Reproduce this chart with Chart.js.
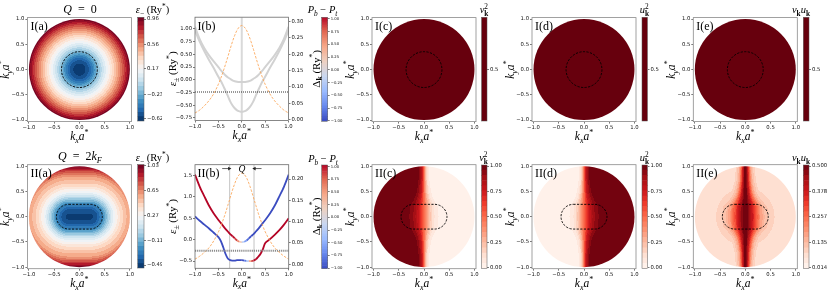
<!DOCTYPE html>
<html><head><meta charset="utf-8">
<script src="https://cdn.jsdelivr.net/npm/chart.js@4.4.1/dist/chart.umd.min.js"></script>
<style>
html,body{margin:0;padding:0;background:#fff;}
#wrap{position:relative;width:830px;height:293px;overflow:hidden;background:#fff;}
#wrap canvas{position:absolute;left:0;top:0;}
</style></head><body><div id="wrap"></div>
<script>
// ================= DATA =================
const kGrid = [-1,-0.9,-0.8,-0.7,-0.6,-0.5,-0.45,-0.4,-0.35,-0.3,-0.25,-0.2,-0.15,-0.1,-0.05,0,0.05,0.1,0.15,0.2,0.25,0.3,0.35,0.4,0.45,0.5,0.6,0.7,0.8,0.9,1];
// I(b)  Q = 0
const epsLowerIb = [0.97,0.75,0.56,0.39,0.23,0.06,-0.02,-0.11,-0.21,-0.31,-0.42,-0.50,-0.56,-0.60,-0.62,-0.63,-0.62,-0.60,-0.56,-0.50,-0.42,-0.31,-0.21,-0.11,-0.02,0.06,0.23,0.39,0.56,0.75,0.97];
const epsUpperIb = [1.04,0.80,0.62,0.48,0.36,0.25,0.19,0.14,0.09,0.05,0.02,-0.01,-0.03,-0.04,-0.045,-0.045,-0.045,-0.04,-0.03,-0.01,0.02,0.05,0.09,0.14,0.19,0.25,0.36,0.48,0.62,0.80,1.04];
const deltaIb = [0.020,0.029,0.042,0.058,0.079,0.108,0.126,0.146,0.168,0.191,0.215,0.238,0.258,0.274,0.284,0.288,0.284,0.274,0.258,0.238,0.215,0.191,0.168,0.146,0.126,0.108,0.079,0.058,0.042,0.029,0.020];
// II(b)  Q = 2kF
const epsUpperIIb = [1.52,1.24,1.01,0.79,0.61,0.46,0.39,0.32,0.25,0.19,0.13,0.08,0.03,-0.02,-0.05,-0.06,-0.05,-0.02,0.03,0.08,0.13,0.19,0.25,0.32,0.39,0.46,0.61,0.79,1.01,1.24,1.52];
const epsLowerIIb = [0.54,0.44,0.35,0.26,0.16,0.06,-0.03,-0.17,-0.33,-0.44,-0.48,-0.49,-0.49,-0.48,-0.48,-0.48,-0.49,-0.50,-0.50,-0.50,-0.49,-0.46,-0.40,-0.33,-0.22,-0.08,0.01,0.11,0.22,0.35,0.50];
const polUpperIIb = [1,1,1,1,1,1,1,1,1,1,1,1,0.92,0.75,0.42,0,-0.42,-0.75,-0.92,-1,-1,-1,-1,-1,-1,-1,-1,-1,-1,-1,-1];
const polLowerIIb = [-1,-1,-1,-1,-1,-1,-1,-1,-1,-1,-1,-1,-1,-1,-1,-1,-0.95,-0.6,0.1,0.7,0.95,1,1,1,1,1,1,1,1,1,1];
const deltaIIb = [0.012,0.019,0.028,0.039,0.055,0.076,0.089,0.104,0.120,0.138,0.156,0.174,0.190,0.203,0.211,0.214,0.211,0.203,0.190,0.174,0.156,0.138,0.120,0.104,0.089,0.076,0.055,0.039,0.028,0.019,0.012];
const muIb = -0.24, muIIb = -0.26;
const refLinesIb = [0];
const refLinesIIb = [-0.26, 0.26];
const arrowsIIb = [[-0.42,-0.27],[0.42,0.27]];
const arrowYIIb = 1.66;
// maps
const fermiRadiusQ0 = 0.355;
const stadiumHalfLength = 0.21, fermiStadiumRadius = 0.245;
const distGrid = [0,0.05,0.1,0.15,0.2,0.25,0.3,0.4,0.5,0.6,0.7,0.8,0.9,1.0];
const epsLowerQ2Map = [-0.49,-0.475,-0.45,-0.40,-0.32,-0.25,-0.14,0.08,0.26,0.40,0.50,0.60,0.79,1.03];
const v2KxGrid = [-0.6,-0.4,-0.3,-0.2,-0.1,0,0.1,0.2,0.3,0.4,0.6];
const v2AtKy0 = [0.995,0.985,0.965,0.90,0.76,0.50,0.24,0.10,0.035,0.015,0.005];
const lensKyGrid = [0,0.2,0.3,0.4,0.5,0.7,1.0];
const lensWidth = [1,0.95,0.75,0.58,0.48,0.38,0.33];
const haloR = [0,0.3,0.45,0.6,0.75,0.9,1.0];
const haloUV = [0.2,0.16,0.11,0.08,0.055,0.03,0.015];
const uniformVU = 0.5;
// ticks
const mapTicks = [-1,-0.5,0,0.5,1];
const ibLeftTicks = [-0.75,-0.5,-0.25,0,0.25,0.5,0.75,1];
const ibRightTicks = [0,0.05,0.1,0.15,0.2,0.25,0.3];
const iibLeftTicks = [-0.5,0,0.5,1,1.5];
const iibRightTicks = [0,0.05,0.1,0.15,0.2];
const cbTicksIa = [-0.62,-0.23,0.17,0.56,0.96];
const cbTicksIIa = [-0.49,-0.11,0.27,0.65,1.03];
const cbTicksPol = [-1,-0.75,-0.5,-0.25,0,0.25,0.5,0.75,1];
const cbTicksVU = [0,0.25,0.5,0.75,1];
const cbTicksUV = [0.014,0.135,0.257,0.378,0.5];
const cbTicksUniform = [0.5];

// ================= LAYOUT / STYLE =================
const W = 830, H = 293;
const SERIF = '"Liberation Serif","Times New Roman",serif';
const SANS = '"DejaVu Sans",sans-serif';
const MAPLIM = 1.03, MAPHALF = 52;
const YW = 24, XH = 12, RW = 20, CBW = 18, TFS = 5.3;
const bXLim = [-1, 1];
const ibYLim = [-0.80, 1.23], ibY2Lim = [-0.003, 0.3135];
const iibYLim = [-0.67, 1.75], iibY2Lim = [-0.0094, 0.2337];
const cbRangeIa = [-0.652, 0.987], cbRangeIIa = [-0.536, 1.053];
const cbRangePol = [-1.01, 1.03], cbRangeVU = [-0.008, 1.01], cbRangeUV = [0.010, 0.505];

function hex2rgb(h){ return [parseInt(h.slice(1,3),16),parseInt(h.slice(3,5),16),parseInt(h.slice(5,7),16)]; }
function makeCmap(hexes){ const c = hexes.map(hex2rgb); return t => { t=Math.min(1,Math.max(0,t)); const f=t*(c.length-1); const i=Math.min(c.length-2,Math.floor(f)); const u=f-i; return [0,1,2].map(k=>Math.round(c[i][k]+u*(c[i+1][k]-c[i][k]))); }; }
const rgbStr = c => `rgb(${c[0]},${c[1]},${c[2]})`;
const RdBu_r = makeCmap(['#053061','#2166ac','#4393c3','#92c5de','#d1e5f0','#f7f7f7','#fddbc7','#f4a582','#d6604d','#b2182b','#67001f']);
const Reds = makeCmap(['#fff5f0','#fee0d2','#fcbba1','#fc9272','#fb6a4a','#ef3b2c','#cb181d','#a50f15','#67000d']);
const coolwarm = makeCmap(['#3b4cc0','#6788ee','#9abbff','#c9d7f0','#edd1c2','#f7a889','#e26952','#b40426']);
const polColor = p => rgbStr(coolwarm((p+1)/2));

function interp(xs, ys, x){ const n=xs.length; if(x<=xs[0]) return ys[0]; if(x>=xs[n-1]) return ys[n-1]; let i=1; while(xs[i]<x) i++; const t=(x-xs[i-1])/(xs[i]-xs[i-1]); return ys[i-1]+t*(ys[i]-ys[i-1]); }

const wrap = document.getElementById('wrap');
function newCtx(){ const c=document.createElement('canvas'); c.width=W; c.height=H; c.style.width=W+'px'; c.style.height=H+'px'; wrap.appendChild(c); return c.getContext('2d'); }
function opts(extra){ return Object.assign({responsive:false,maintainAspectRatio:false,animation:false,devicePixelRatio:1,events:[],plugins:{legend:{display:false},tooltip:{enabled:false}}}, extra); }
function pad(a, lw, bh, rw){ return {left:a[0]-lw, top:a[1], right:W-a[2]-rw, bottom:H-a[3]-bh}; }
function fmt(d){ return v => (v < -1e-9 ? '\u2212' : '') + Math.abs(v).toFixed(d); }
function axis(pos, min, max, ticks, dec, size, fs){
  const horiz = pos==='top'||pos==='bottom';
  return { type:'linear', position:pos, min, max,
    afterBuildTicks: s => { s.ticks = ticks.map(v=>({value:v})); },
    afterFit: s => { if(horiz) s.height=size; else s.width=size; },
    ticks:{ callback: fmt(dec), font:{family:SANS,size:fs}, color:'#111', padding:1, autoSkip:false, maxRotation:0, minRotation:0 },
    grid:{ display:true, drawOnChartArea:false, drawTicks:true, tickLength:2, color:'#222', lineWidth:0.6 },
    border:{ display:false } };
}

function drawRich(ctx, runs, x, y, o){
  const fs=o.fs||10, fam=o.family||SERIF; let cx=0, prevStart=0; const pcs=[];
  for(const [t,f=''] of runs){
    const fl=f.split(' '); const small=fl.includes('sub')||fl.includes('sup');
    const size=small?fs*0.7:fs;
    const font=(fl.includes('it')?'italic ':'')+(fl.includes('bf')?'bold ':'')+size.toFixed(2)+'px '+fam;
    ctx.font=font; const w=ctx.measureText(t).width;
    const start=fl.includes('stk')?prevStart:cx;
    const dy=fl.includes('sub')?fs*0.25:(fl.includes('sup')?-fs*0.42:0);
    pcs.push({t,font,x:start,dy}); cx=Math.max(cx,start+w); prevStart=start;
  }
  ctx.save(); ctx.translate(x,y); if(o.rot) ctx.rotate(o.rot);
  const x0=o.align==='left'?0:(o.align==='right'?-cx:-cx/2);
  ctx.fillStyle=o.color||'#000'; ctx.textBaseline='alphabetic'; ctx.textAlign='left';
  for(const p of pcs){ ctx.font=p.font; ctx.fillText(p.t, x0+p.x, fs*0.33+p.dy); }
  ctx.restore();
}
function textPlugin(items){ return { id:'txt', afterDraw(chart){ for(const it of items){ const p=typeof it.at==='function'?it.at(chart):it.at; drawRich(chart.ctx,it.runs,p[0],p[1],it); } } }; }
function framePlugin(color,lw){ return { id:'frame', afterDatasetsDraw(chart){ const a=chart.chartArea, c=chart.ctx; c.save(); c.strokeStyle=color; c.lineWidth=lw; c.setLineDash([]); c.strokeRect(a.left,a.top,a.right-a.left,a.bottom-a.top); c.restore(); } }; }

function fieldPlugin(spec){
  return { id:'field', beforeDatasetsDraw(chart){
    const {ctx, chartArea:a, scales:{x,y}} = chart;
    const x0=Math.floor(a.left), y0=Math.floor(a.top), w=Math.ceil(a.right)-x0, h=Math.ceil(a.bottom)-y0;
    const off=document.createElement('canvas'); off.width=w; off.height=h;
    const octx=off.getContext('2d'); const img=octx.createImageData(w,h); const d=img.data; const cache={};
    for(let j=0;j<h;j++){ const ky=y.getValueForPixel(y0+j+0.5);
      for(let i=0;i<w;i++){ const kx=x.getValueForPixel(x0+i+0.5); let col;
        if(spec.fixed) col=spec.fixed;
        else { const v=spec.value(kx,ky); let L=Math.floor((v-spec.range[0])/(spec.range[1]-spec.range[0])*spec.n); L=Math.max(0,Math.min(spec.n-1,L)); col=cache[L]||(cache[L]=spec.cmap((L+0.5)/spec.n)); }
        const p=(j*w+i)*4; d[p]=col[0]; d[p+1]=col[1]; d[p+2]=col[2]; d[p+3]=255; } }
    octx.putImageData(img,0,0);
    const cx=x.getPixelForValue(0), cy=y.getPixelForValue(0), R=x.getPixelForValue(1)-cx;
    ctx.save(); ctx.beginPath(); ctx.arc(cx,cy,R,0,2*Math.PI); ctx.clip(); ctx.drawImage(off,x0,y0); ctx.restore();
    const ct=spec.contour; const r=x.getPixelForValue(ct.r)-cx;
    ctx.save(); ctx.setLineDash([2.2,1.4]); ctx.lineWidth=0.9; ctx.strokeStyle='#000'; ctx.beginPath();
    if(ct.type==='circle'){ ctx.arc(cx,cy,r,0,2*Math.PI); }
    else { const xl=x.getPixelForValue(-ct.c), xr=x.getPixelForValue(ct.c);
      ctx.moveTo(xl,cy-r); ctx.lineTo(xr,cy-r); ctx.arc(xr,cy,r,-Math.PI/2,Math.PI/2); ctx.lineTo(xl,cy+r); ctx.arc(xl,cy,r,Math.PI/2,1.5*Math.PI); ctx.closePath(); }
    ctx.stroke(); ctx.restore();
  }};
}

const AFS = 11.5, PFS = 12;
const xlab=[['k','it'],['x','it sub'],['a','it'],['*','sup']];
const ylab=[['k','it'],['y','it sub'],['a','it'],['*','sup']];
const CA = c => c.chartArea;
function mapTexts(label){ return [
  {runs:xlab, at:c=>[(CA(c).left+CA(c).right)/2, CA(c).bottom+14.5], fs:AFS},
  {runs:ylab, at:c=>[CA(c).left-22, (CA(c).top+CA(c).bottom)/2], fs:AFS, rot:-Math.PI/2},
  {runs:[[label,'']], at:c=>[CA(c).left+3, CA(c).top+8.5], fs:PFS, align:'left'}
]; }

function mapChart(center, spec, label, extra){
  const a=[center[0]-MAPHALF, center[1]-MAPHALF, center[0]+MAPHALF, center[1]+MAPHALF];
  return new Chart(newCtx(), { type:'scatter', data:{datasets:[]},
    options: opts({ layout:{padding:pad(a,YW,XH,0)}, scales:{ x:axis('bottom',-MAPLIM,MAPLIM,mapTicks,1,XH,TFS), y:axis('left',-MAPLIM,MAPLIM,mapTicks,1,YW,TFS) } }),
    plugins:[fieldPlugin(spec), framePlugin('#8a8a8a',0.8), textPlugin(mapTexts(label).concat(extra||[]))] });
}

function levelBands(range, n, cmap){ const out=[]; const dv=(range[1]-range[0])/n; for(let i=0;i<n;i++) out.push({lo:range[0]+i*dv, hi:range[0]+(i+1)*dv, color:rgbStr(cmap((i+0.5)/n))}); return out; }
function colorbarChart(a, range, ticks, dec, bands, fs, texts){
  return new Chart(newCtx(), { type:'bar',
    data:{ labels:[''], datasets: bands.map(b=>({data:[[b.lo,b.hi]], backgroundColor:b.color, borderWidth:0, barPercentage:1, categoryPercentage:1, grouped:false})) },
    options: opts({ layout:{padding:{left:a[0], top:a[1], right:W-a[2]-CBW, bottom:H-a[3]}},
      scales:{ x:{display:false}, y:axis('right',range[0],range[1],ticks,dec,CBW,fs) } }),
    plugins:[framePlugin('#555',0.5), textPlugin(texts)] });
}

// ---------- field definitions built from the arrays ----------
const kPos = kGrid.slice(15), epsPosIb = epsLowerIb.slice(15);
const fieldIa = (kx,ky) => interp(kPos, epsPosIb, Math.hypot(kx,ky));
const fieldIIa = (kx,ky) => interp(distGrid, epsLowerQ2Map, Math.hypot(Math.max(Math.abs(kx)-stadiumHalfLength,0), ky));
const v2 = (kx,ky) => interp(v2KxGrid, v2AtKy0, kx / interp(lensKyGrid, lensWidth, Math.abs(ky)));
const uvField = (kx,ky) => { const s=v2(kx,ky); return Math.max(Math.sqrt(s*(1-s)), interp(haloR, haloUV, Math.hypot(kx,ky))); };
const topRed = Reds(1);
const circleQ0 = {type:'circle', r:fermiRadiusQ0};
const stadiumQ2 = {type:'stadium', c:stadiumHalfLength, r:fermiStadiumRadius};

// ---------- maps ----------
const rowY = [69.6, 216.7];
const colX = {a:79.4, c:424, d:584, e:745.3};
mapChart([colX.a,rowY[0]], {value:fieldIa, range:cbRangeIa, n:24, cmap:RdBu_r, contour:circleQ0}, 'I(a)',
  [{runs:[['Q','it'],['  =  0','']], at:[80,9.5], fs:12}]);
mapChart([colX.a,rowY[1]], {value:fieldIIa, range:cbRangeIIa, n:24, cmap:RdBu_r, contour:stadiumQ2}, 'II(a)',
  [{runs:[['Q','it'],['  =  2',''],['k','it'],['F','it sub']], at:[80,156.5], fs:12}]);
mapChart([colX.c,rowY[0]], {fixed:topRed, contour:circleQ0}, 'I(c)');
mapChart([colX.d,rowY[0]], {fixed:topRed, contour:circleQ0}, 'I(d)');
mapChart([colX.e,rowY[0]], {fixed:topRed, contour:circleQ0}, 'I(e)');
mapChart([colX.c,rowY[1]], {value:v2, range:cbRangeVU, n:20, cmap:Reds, contour:stadiumQ2}, 'II(c)');
mapChart([colX.d,rowY[1]], {value:(kx,ky)=>1-v2(kx,ky), range:cbRangeVU, n:20, cmap:Reds, contour:stadiumQ2}, 'II(d)');
mapChart([colX.e,rowY[1]], {value:uvField, range:cbRangeUV, n:20, cmap:Reds, contour:stadiumQ2}, 'II(e)');

// ---------- band panels ----------
const pts = arr => kGrid.map((k,i)=>({x:k, y:arr[i]}));
function bandTexts(label){ return [
  {runs:xlab, at:c=>[(CA(c).left+CA(c).right)/2, CA(c).bottom+14.5], fs:AFS},
  {runs:[['ε','it'],['±','sub'],[' (Ry',''],['*','sup'],[')','']], at:c=>[CA(c).left-22.5,(CA(c).top+CA(c).bottom)/2], fs:11, rot:-Math.PI/2},
  {runs:[['Δ',''],['k','bf sub'],[' (Ry',''],['*','sup'],[')','']], at:c=>[CA(c).right+27.5,(CA(c).top+CA(c).bottom)/2], fs:11, rot:-Math.PI/2},
  {runs:[[label,'']], at:c=>[CA(c).left+2.5, CA(c).top+8.5], fs:PFS, align:'left'}
]; }
const lineBase = {pointRadius:0, fill:false, borderCapStyle:'butt'};
const ORANGE = 'rgba(252,163,82,0.95)';

// I(b)
new Chart(newCtx(), { type:'line', data:{ datasets:[
  ...refLinesIb.map(x0=>({...lineBase, data:ibYLim.map(y=>({x:x0,y})), borderColor:'#d9d9d9', borderWidth:2, tension:0, order:10})),
  {...lineBase, data:pts(epsLowerIb), borderColor:'#d2d2d2', borderWidth:2, tension:0.35, order:8},
  {...lineBase, data:pts(epsUpperIb), borderColor:'#d2d2d2', borderWidth:2, tension:0.35, order:8},
  {...lineBase, data:pts(deltaIb), yAxisID:'y2', borderColor:ORANGE, borderWidth:0.9, borderDash:[2.5,1.5], tension:0.35, order:6},
  {...lineBase, data:bXLim.map(x=>({x,y:muIb})), borderColor:'#000', borderWidth:0.8, borderDash:[1,1], tension:0, order:5}
]},
  options: opts({ layout:{padding:pad([195,17.2,288.5,120.5],YW,XH,RW)},
    scales:{ x:axis('bottom',bXLim[0],bXLim[1],mapTicks,1,XH,TFS), y:axis('left',ibYLim[0],ibYLim[1],ibLeftTicks,2,YW,TFS), y2:axis('right',ibY2Lim[0],ibY2Lim[1],ibRightTicks,2,RW,TFS) } }),
  plugins:[framePlugin('#6a6a6a',0.8), textPlugin(bandTexts('I(b)'))] });

// II(b)
const segPol = arr => ({ borderColor: c => polColor((arr[c.p0DataIndex]+arr[c.p1DataIndex])/2) });
new Chart(newCtx(), { type:'line', data:{ datasets:[
  ...refLinesIIb.map(x0=>({...lineBase, data:iibYLim.map(y=>({x:x0,y})), borderColor:'#c4c4c4', borderWidth:1, tension:0, order:10})),
  {...lineBase, data:pts(epsUpperIIb), borderColor:polColor(1), segment:segPol(polUpperIIb), borderWidth:1.8, tension:0.3, order:8},
  {...lineBase, data:pts(epsLowerIIb), borderColor:polColor(-1), segment:segPol(polLowerIIb), borderWidth:1.8, tension:0.3, order:8},
  {...lineBase, data:pts(deltaIIb), yAxisID:'y2', borderColor:ORANGE, borderWidth:0.9, borderDash:[2.5,1.5], tension:0.35, order:6},
  {...lineBase, data:bXLim.map(x=>({x,y:muIIb})), borderColor:'#8c8c8c', borderWidth:1.8, borderDash:[1.2,0.9], tension:0, order:5},
  ...arrowsIIb.map(([a,b])=>({...lineBase, data:[{x:a,y:arrowYIIb},{x:b,y:arrowYIIb}], borderColor:'#222', borderWidth:0.7, tension:0,
     pointRadius:[0,2.2], pointStyle:'triangle', pointRotation:b>a?90:-90, pointBackgroundColor:'#222', pointBorderWidth:0, order:4}))
]},
  options: opts({ layout:{padding:pad([195,164.7,288.7,268.3],YW,XH,RW)},
    scales:{ x:axis('bottom',bXLim[0],bXLim[1],mapTicks,1,XH,TFS), y:axis('left',iibYLim[0],iibYLim[1],iibLeftTicks,1,YW,TFS), y2:axis('right',iibY2Lim[0],iibY2Lim[1],iibRightTicks,2,RW,TFS) } }),
  plugins:[framePlugin('#6a6a6a',0.8), textPlugin(bandTexts('II(b)').concat([
    {runs:[['Q','it']], at:c=>[c.scales.x.getPixelForValue(0), c.scales.y.getPixelForValue(arrowYIIb)], fs:9.5}
  ]))] });

// ---------- colorbars ----------
const epsTitle = [['ε','it'],['\u2212','sub'],[' (Ry',''],['*','sup'],[')','']];
const polTitle = [['P','it'],['b','it sub'],[' \u2212 ',''],['P','it'],['t','it sub']];
const CTF = 10.5;
colorbarChart([137.7,17.3,144,121], cbRangeIa, cbTicksIa, 2, levelBands(cbRangeIa,24,RdBu_r), TFS, [{runs:epsTitle, at:[152.5,10], fs:CTF}]);
colorbarChart([137.7,164.5,144,268], cbRangeIIa, cbTicksIIa, 2, levelBands(cbRangeIIa,24,RdBu_r), TFS, [{runs:epsTitle, at:[152.5,157.5], fs:CTF}]);
colorbarChart([321.7,17.3,327.7,121.3], cbRangePol, cbTicksPol, 2, levelBands(cbRangePol,64,coolwarm), 3.8, [{runs:polTitle, at:[322.5,10], fs:CTF}]);
colorbarChart([321.7,165,327.7,268.7], cbRangePol, cbTicksPol, 2, levelBands(cbRangePol,64,coolwarm), 3.8, [{runs:polTitle, at:[323,158.5], fs:CTF}]);
const uni = [{lo:0, hi:1, color:rgbStr(topRed)}];
const vTitle = [['v','it'],['k','bf sub'],['2','sup stk']];
const uTitle = [['u','it'],['k','bf sub'],['2','sup stk']];
const vuTitle = [['v','it'],['k','bf sub'],['u','it'],['k','bf sub']];
colorbarChart([481.5,17.3,487,121], [0,1], cbTicksUniform, 1, uni, TFS, [{runs:vTitle, at:[484,9.5], fs:CTF}]);
colorbarChart([642,17.3,647.5,121], [0,1], cbTicksUniform, 1, uni, TFS, [{runs:uTitle, at:[644.5,9.5], fs:CTF}]);
colorbarChart([803.3,17.3,809,121], [0,1], cbTicksUniform, 1, uni, TFS, [{runs:vuTitle, at:[801,9.5], fs:CTF}]);
colorbarChart([481.5,165,487,268.5], cbRangeVU, cbTicksVU, 2, levelBands(cbRangeVU,20,Reds), TFS, [{runs:vTitle, at:[483.5,157.5], fs:CTF}]);
colorbarChart([642,165,647.5,268.5], cbRangeVU, cbTicksVU, 2, levelBands(cbRangeVU,20,Reds), TFS, [{runs:uTitle, at:[644.5,157.5], fs:CTF}]);
colorbarChart([803.3,165,809,268.5], cbRangeUV, cbTicksUV, 3, levelBands(cbRangeUV,20,Reds), TFS, [{runs:vuTitle, at:[801,157.5], fs:CTF}]);
</script></body></html>
